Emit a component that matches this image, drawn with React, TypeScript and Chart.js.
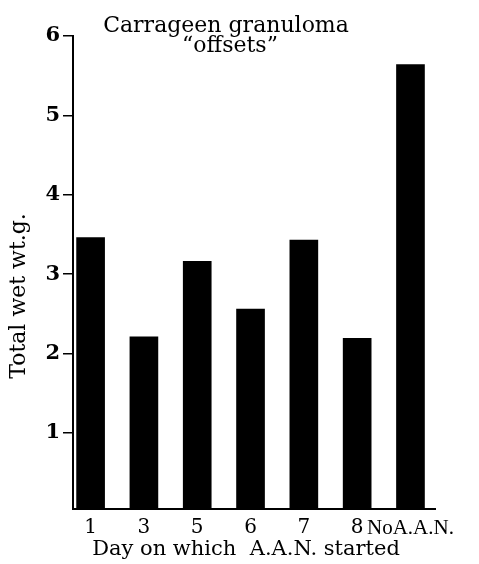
import { useEffect, useRef } from "react";
import { Chart, registerables } from "chart.js";

Chart.register(...registerables);

const categories = ["1", "3", "5", "6", "7", "8", "NoA.A.N."];
const values = [3.46, 2.21, 3.16, 2.56, 3.43, 2.19, 5.64];
const yTicks = [1, 2, 3, 4, 5, 6];
const titleLines = ["Carrageen granuloma", "\u201coffsets\u201d"];
const xTitle = "Day on which  A.A.N. started";
const yTitle = "Total wet wt.g.";

const SERIF = "'DejaVu Serif', 'Liberation Serif', serif";
const TIMES = "'Liberation Serif', 'DejaVu Serif', serif";

const textPlugin = {
  id: "customTexts",
  afterDraw(chart: any) {
    const { ctx, chartArea } = chart;
    ctx.save();
    ctx.fillStyle = "#000";
    ctx.font = `22px ${SERIF}`;
    ctx.textAlign = "center";
    ctx.textBaseline = "alphabetic";
    const cx = chartArea.left + 153;
    titleLines.forEach((line, i) => {
      ctx.fillText(line, cx + (i === 1 ? 4 : 0), chartArea.top - 4 + i * 20);
    });
    ctx.font = `21px ${SERIF}`;
    ctx.fillText(xTitle, chartArea.left + 173, chartArea.bottom + 46);
    ctx.translate(11, chartArea.top + 260);
    ctx.rotate(-Math.PI / 2);
    ctx.font = `22px ${SERIF}`;
    ctx.textBaseline = "middle";
    ctx.fillText(yTitle, 0, 0);
    ctx.restore();
  },
};

export default function App() {
  const ref = useRef<HTMLCanvasElement>(null);
  useEffect(() => {
    if (!ref.current) return;
    const chart = new Chart(ref.current, {
      type: "bar",
      data: {
        datasets: [
          {
            data: values.map((v, i) => ({ x: i, y: v })),
            backgroundColor: "#000",
            borderWidth: 0,
            barThickness: 28,
          },
        ],
      },
      options: {
        animation: false,
        responsive: true,
        maintainAspectRatio: false,
        layout: { padding: { top: 28, right: 44, left: 0, bottom: 0 } },
        plugins: {
          legend: { display: false },
          tooltip: { enabled: false },
          title: { display: false },
        },
        scales: {
          x: {
            type: "linear",
            offset: false,
            min: -0.33,
            max: 6.46,
            afterBuildTicks: (scale: any) => {
              scale.ticks = categories.map((_, i) => ({ value: i }));
            },
            afterFit: (scale: any) => {
              scale.height = 55;
            },
            grid: { display: false, drawTicks: false },
            border: { display: true, color: "#000", width: 2 },
            ticks: {
              color: "#000",
              font: (c: any) =>
                c.index === categories.length - 1
                  ? { family: TIMES, size: 21 }
                  : { family: SERIF, size: 20 },
              padding: 7,
              maxRotation: 0,
              autoSkip: false,
              callback: (v: any) => categories[v as number] ?? "",
            },
          },
          y: {
            min: 0.04,
            max: 6,
            afterBuildTicks: (scale: any) => {
              scale.ticks = yTicks.map((v) => ({ value: v }));
            },
            afterFit: (scale: any) => {
              scale.width = 65;
            },
            grid: {
              display: true,
              drawOnChartArea: false,
              drawTicks: true,
              tickLength: 10,
              color: "#000",
              lineWidth: 1.5,
            },
            border: { display: true, color: "#000", width: 2 },
            ticks: {
              color: "#000",
              font: { family: SERIF, size: 21, weight: "bold" },
              padding: 3,
            },
          },
        },
      },
      plugins: [textPlugin],
    } as any);
    return () => chart.destroy();
  }, []);
  return (
    <div style={{ width: 471, height: 556, position: "relative" }}>
      <canvas ref={ref} />
    </div>
  );
}
